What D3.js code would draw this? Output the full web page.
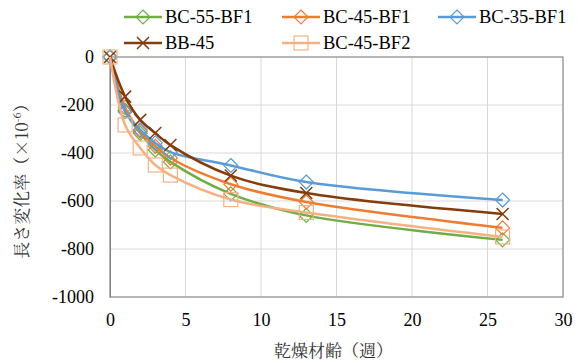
<!DOCTYPE html>
<html>
<head>
<meta charset="utf-8">
<script src="https://cdn.jsdelivr.net/npm/d3@7"></script>
<style>
  body { margin: 0; background: #fff; }
  svg { display: block; }
</style>
</head>
<body>
<svg id="chart" width="579" height="363"></svg>
<script>
// dry age (weeks)
const weeks = [0, 1, 2, 3, 4, 8, 13, 26];

const seriesNames = ["BC-55-BF1", "BC-45-BF1", "BC-35-BF1", "BB-45", "BC-45-BF2"];
const bc55bf1 = [0, -222, -318, -387, -437, -570, -660, -762];
const bc45bf1 = [0, -210, -310, -372, -421, -530, -604, -712];
const bc35bf1 = [0, -228, -304, -358, -396, -452, -521, -596];
const bb45    = [0, -165, -262, -317, -367, -494, -567, -654];
const bc45bf2 = [0, -283, -379, -450, -492, -594, -648, -750];

const xTicks = [0, 5, 10, 15, 20, 25, 30];
const yTicks = [0, -200, -400, -600, -800, -1000];

const colors = ["#70ad47", "#ed7d31", "#5b9bd5", "#843c0c", "#f4b183"];
const markers = ["diamond", "diamond", "diamond", "cross", "square"];
const values = [bc55bf1, bc45bf1, bc35bf1, bb45, bc45bf2];

const svg = d3.select("#chart");
const margin = {top: 57, right: 16, bottom: 66, left: 110};
const W = 579, H = 363;

const x = d3.scaleLinear().domain([0, 30]).range([margin.left, W - margin.right]);
const y = d3.scaleLinear().domain([-1000, 0]).range([H - margin.bottom, margin.top]);

const serif = '"Liberation Serif"';
const jp = '"Noto Serif CJK JP"';

// grid
svg.append("g")
  .selectAll("line.gy")
  .data(yTicks)
  .enter().append("line")
  .attr("x1", x(0)).attr("x2", x(30))
  .attr("y1", d => y(d)).attr("y2", d => y(d))
  .attr("stroke", "#d9d9d9").attr("stroke-width", 1);
svg.append("g")
  .selectAll("line.gx")
  .data(xTicks)
  .enter().append("line")
  .attr("y1", y(0)).attr("y2", y(-1000))
  .attr("x1", d => x(d)).attr("x2", d => x(d))
  .attr("stroke", "#d9d9d9").attr("stroke-width", 1);

// frame
svg.append("rect")
  .attr("x", x(0)).attr("y", y(0))
  .attr("width", x(30) - x(0)).attr("height", y(-1000) - y(0))
  .attr("fill", "none").attr("stroke", "#808080").attr("stroke-width", 1);

// axes
const fmt = d => String(d);
const yAxis = svg.append("g")
  .attr("transform", `translate(${x(0)},0)`)
  .call(d3.axisLeft(y).tickValues(yTicks).tickFormat(fmt).tickSize(0).tickPadding(16));
yAxis.select(".domain").attr("stroke", "#808080");
yAxis.selectAll("text").style("font-family", serif).style("font-size", "18px").attr("fill", "#000");

const xAxis = svg.append("g")
  .attr("transform", `translate(0,${y(-1000)})`)
  .call(d3.axisBottom(x).tickValues(xTicks).tickFormat(fmt).tickSize(0).tickPadding(16));
xAxis.select(".domain").remove();
xAxis.selectAll("text").style("font-family", serif).style("font-size", "18px").attr("fill", "#000");

// axis titles
svg.append("text")
  .attr("x", (x(0) + x(30)) / 2 - 3).attr("y", 357)
  .attr("text-anchor", "middle")
  .style("font-family", jp).style("font-size", "17px").attr("fill", "#333")
  .text("乾燥材齢（週）");

const yt = svg.append("text")
  .attr("transform", `translate(28,${(y(0) + y(-1000)) / 2}) rotate(-90)`)
  .attr("text-anchor", "middle")
  .style("font-family", jp).style("font-size", "17px").attr("fill", "#333");
yt.append("tspan").text("長さ変化率（×10");
yt.append("tspan").attr("dy", -7).style("font-size", "11px").text("-6");
yt.append("tspan").attr("dy", 7).text("）");

function drawMarker(g, type, cx, cy, color) {
  if (type === "diamond") {
    g.append("path")
      .attr("d", `M${cx},${cy - 7}L${cx + 7},${cy}L${cx},${cy + 7}L${cx - 7},${cy}Z`)
      .attr("fill", "none").attr("stroke", color).attr("stroke-width", 1.2);
  } else if (type === "square") {
    g.append("rect")
      .attr("x", cx - 7).attr("y", cy - 7).attr("width", 14).attr("height", 14)
      .attr("fill", "none").attr("stroke", color).attr("stroke-width", 1.2);
  } else {
    g.append("path")
      .attr("d", `M${cx - 6},${cy - 6}L${cx + 6},${cy + 6}M${cx - 6},${cy + 6}L${cx + 6},${cy - 6}`)
      .attr("stroke", color).attr("stroke-width", 1.5);
  }
}

const line = d3.line()
  .x(d => x(d[0])).y(d => y(d[1]))
  .curve(d3.curveCatmullRom.alpha(0.5));

values.forEach((vals, i) => {
  const pts = weeks.map((w, j) => [w, vals[j]]);
  const g = svg.append("g");
  g.append("path")
    .datum(pts)
    .attr("d", line)
    .attr("fill", "none")
    .attr("stroke", colors[i])
    .attr("stroke-width", 2.5);
  pts.forEach(p => drawMarker(g, markers[i], x(p[0]), y(p[1]), colors[i]));
});

// legend
const legendPos = [[124, 17], [282, 17], [438, 17], [124, 43], [282, 43]];
seriesNames.forEach((name, i) => {
  const [lx, ly] = legendPos[i];
  const g = svg.append("g");
  g.append("line")
    .attr("x1", lx).attr("x2", lx + 38).attr("y1", ly).attr("y2", ly)
    .attr("stroke", colors[i]).attr("stroke-width", 2.5);
  drawMarker(g, markers[i], lx + 19, ly, colors[i]);
  g.append("text")
    .attr("x", lx + 41).attr("y", ly + 6)
    .style("font-family", serif).style("font-size", "18.5px").attr("fill", "#000")
    .text(name);
});
</script>
</body>
</html>
